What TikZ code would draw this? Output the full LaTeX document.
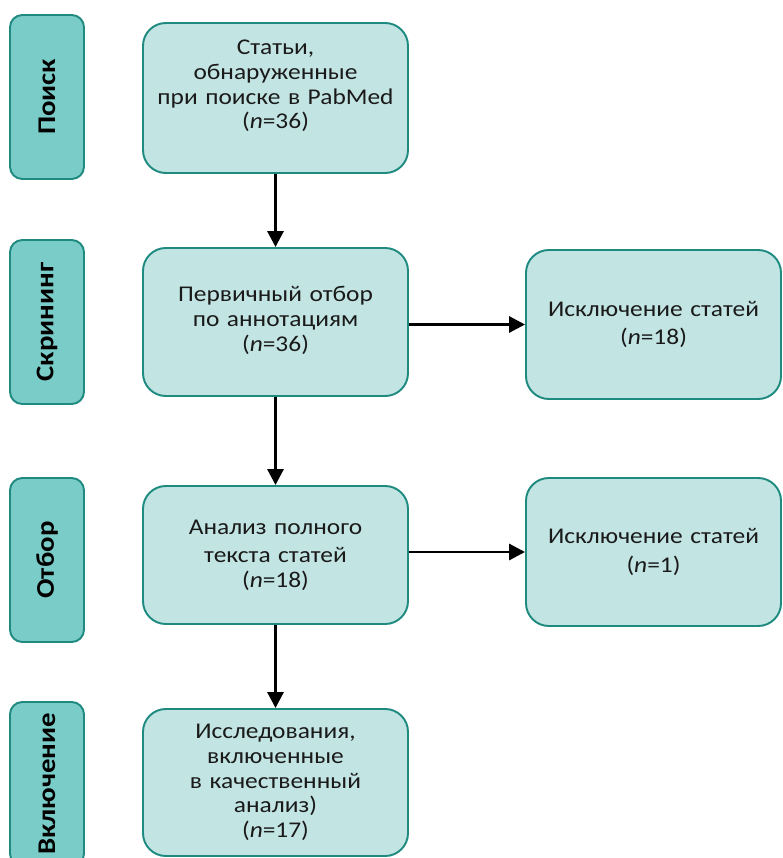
\documentclass[tikz,border=0pt]{standalone}
\usepackage{fontspec}
\setmainfont[FakeStretch=1.13]{Carlito}
\usetikzlibrary{positioning, calc, arrows.meta}
\definecolor{tealbordo}{RGB}{30,138,128}
\definecolor{tealscuro}{RGB}{122,204,200}
\definecolor{tealchiaro}{RGB}{194,229,227}
\definecolor{testo}{RGB}{26,26,26}

\begin{document}
\begin{tikzpicture}[x=0.02cm, y=-0.02cm,
        fase/.style={draw=tealbordo, line width=1.1pt, fill=tealscuro, rounded corners=7pt,
            minimum width=74*0.02cm, minimum height=164*0.02cm, inner sep=0pt,
            font=\fontsize{14.5pt}{15pt}\selectfont\bfseries},
        blocco/.style={draw=tealbordo, line width=1.1pt, fill=tealchiaro, rounded corners=13pt,
            minimum width=265*0.02cm, text width=255*0.02cm, align=center, inner sep=0pt,
            text=testo, font=\fontsize{12.8pt}{14pt}\selectfont},
        escluso/.style={blocco, minimum width=253*0.02cm},
        freccia/.style={line width=1.7pt, -{Triangle[length=9pt, width=9pt]}}]
        \useasboundingbox (0,0) rectangle (782,858);

        %fasi a sinistra
        \node[fase] (poisk) at (47,97) {\rotatebox{90}{Поиск}};
        \node[fase] (skrin) at (47,322) {\rotatebox{90}{Скрининг}};
        \node[fase] (otbor) at (47,560) {\rotatebox{90}{Отбор}};
        \node[fase] (vkl) at (47,784) {\rotatebox{90}{Включение}};

        %blocchi centrali
        \node[blocco, minimum height=150*0.02cm] (stati) at (275.5,98)
            {Статьи,\\обнаруженные\\при поиске в PabMed\\(\textit{n}=36)\par\vspace*{0.48cm}};
        \node[blocco, minimum height=148*0.02cm] (pervich) at (275.5,322)
            {Первичный отбор\\по аннотациям\\(\textit{n}=36)\par\vspace*{0.06cm}};
        \node[blocco, minimum height=138*0.02cm] (analiz) at (275.5,555)
            {\vspace*{0.08cm}Анализ полного\\текста статей\\(\textit{n}=18)};
        \node[blocco, minimum height=147*0.02cm] (issled) at (275.5,782.5)
            {Исследования,\\включенные\\в качественный\\анализ)\\(\textit{n}=17)};

        %esclusioni a destra
        \node[escluso, minimum height=149*0.02cm] (iskl1) at (653.5,324.5)
            {\vspace*{0.08cm}Исключение статей\\(\textit{n}=18)};
        \node[escluso, minimum height=148*0.02cm] (iskl2) at (653.5,552)
            {\vspace*{0.1cm}Исключение статей\\(\textit{n}=1)};

        %frecce
        \draw[freccia] (stati) -- (pervich);
        \draw[freccia] (pervich) -- (analiz);
        \draw[freccia] (analiz) -- (issled);
        \draw[freccia] (pervich.east |- iskl1.west) -- (iskl1.west);
        \draw[freccia] (analiz.east |- iskl2.west) -- (iskl2.west);
\end{tikzpicture}
\end{document}
